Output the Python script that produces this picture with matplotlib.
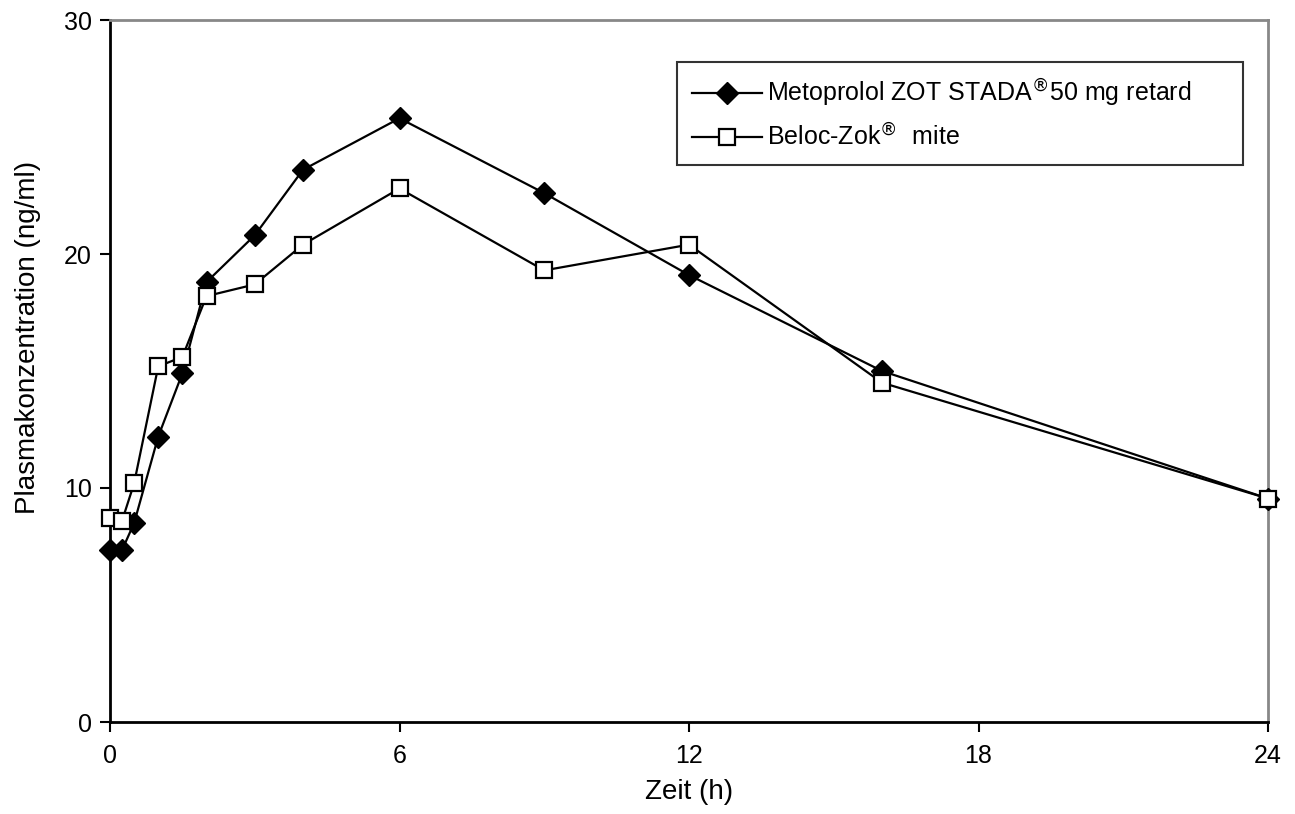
import matplotlib
matplotlib.use("Agg")
import matplotlib.pyplot as plt
from matplotlib import font_manager

plt.rcParams['font.family'] = ['Liberation Sans', 'DejaVu Sans']

time_h = [0, 0.25, 0.5, 1, 1.5, 2, 3, 4, 6, 9, 12, 16, 24]
metoprolol = [7.35, 7.35, 8.5, 12.2, 14.9, 18.8, 20.8, 23.6, 25.8, 22.6, 19.1, 15.0, 9.55]
beloc = [8.7, 8.6, 10.2, 15.2, 15.6, 18.2, 18.7, 20.4, 22.8, 19.3, 20.4, 14.5, 9.55]
x_ticks = [0, 6, 12, 18, 24]
y_ticks = [0, 10, 20, 30]
label_a = "Metoprolol ZOT STADA$^{\u00ae}$50 mg retard"
label_b = "Beloc-Zok$^{\u00ae}$  mite"

fig = plt.figure(figsize=(12.95, 8.14), dpi=100)
ax = fig.add_axes([110/1295, 1-722/814, 1158/1295, 702/814])

ax.plot(time_h, metoprolol, color='black', lw=1.6, marker='D', markersize=11,
        markerfacecolor='black', markeredgecolor='black', label=label_a, clip_on=False, zorder=3)
ax.plot(time_h, beloc, color='black', lw=1.6, marker='s', markersize=12,
        markerfacecolor='white', markeredgecolor='black', markeredgewidth=1.6,
        label=label_b, clip_on=False, zorder=4)

ax.set_xlim(0, 24)
ax.set_ylim(0, 30)
ax.set_xticks(x_ticks)
ax.set_yticks(y_ticks)
ax.tick_params(direction='out', length=7, width=1.5, labelsize=18)
ax.tick_params(axis='x', pad=9)
ax.tick_params(axis='y', pad=6)
for s in ['left', 'bottom']:
    ax.spines[s].set_linewidth(2)
    ax.spines[s].set_color('black')
for s in ['top', 'right']:
    ax.spines[s].set_linewidth(2)
    ax.spines[s].set_color('#888888')

ax.set_xlabel('Zeit (h)', fontsize=20, labelpad=8)
ax.set_ylabel('Plasmakonzentration (ng/ml)', fontsize=20)
ax.yaxis.set_label_coords(-0.060, 0.548)

fams = [f.name for f in font_manager.fontManager.ttflist]
legfam = ['Liberation Sans Narrow', 'Liberation Sans'] if 'Liberation Sans Narrow' in fams else ['Liberation Sans']
leg = ax.legend(loc='lower left', bbox_to_anchor=(0.49, 0.793, 0.488, 0.147), mode='expand',
                frameon=True, fancybox=False, edgecolor='black', handlelength=2.8,
                prop={'family': legfam, 'size': 18}, borderpad=0.6, labelspacing=0.55,
                handletextpad=0.2, borderaxespad=0)
leg.get_frame().set_linewidth(1.5)

fig.savefig('out.png', dpi=100)
